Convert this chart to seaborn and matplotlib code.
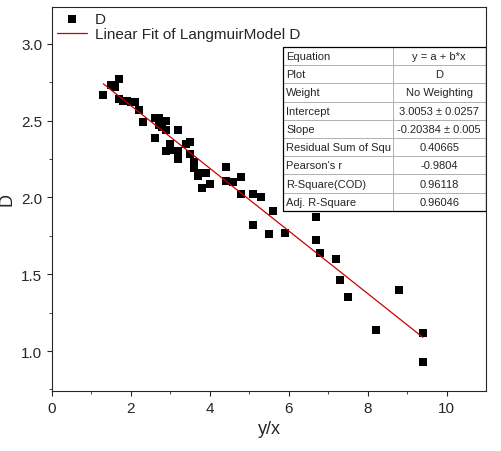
import numpy as np
import matplotlib.pyplot as plt
import matplotlib.patches as mpatches
import seaborn as sns

sns.set_style("ticks")
plt.rcParams['font.family'] = ['Liberation Sans', 'DejaVu Sans']

# 데이터
x_vals = [1.3, 1.5, 1.6, 1.7, 1.7, 1.8, 1.9, 2.0, 2.1, 2.2, 2.3, 2.6, 2.6, 2.7, 2.7,
          2.8, 2.9, 2.9, 2.9, 3.0, 3.0, 3.2, 3.2, 3.2, 3.4, 3.5, 3.5, 3.6, 3.6, 3.7,
          3.8, 3.8, 3.9, 4.0, 4.4, 4.4, 4.6, 4.8, 4.8, 5.1, 5.1, 5.3, 5.5, 5.6, 5.9,
          6.7, 6.7, 6.8, 7.2, 7.3, 7.5, 8.2, 8.8, 9.4, 9.4]
d_vals = [2.67, 2.73, 2.72, 2.77, 2.64, 2.63, 2.63, 2.62, 2.62, 2.57, 2.49, 2.52, 2.39, 2.52, 2.47,
          2.46, 2.50, 2.44, 2.30, 2.35, 2.31, 2.44, 2.30, 2.25, 2.35, 2.36, 2.28, 2.23, 2.19, 2.14,
          2.06, 2.16, 2.16, 2.09, 2.20, 2.11, 2.10, 2.02, 2.13, 2.02, 1.82, 2.00, 1.76, 1.91, 1.77,
          1.72, 1.87, 1.64, 1.60, 1.46, 1.35, 1.14, 1.40, 1.12, 0.93]
intercept = 3.0053
slope = -0.20384

table_rows = [
    ["Equation", "y = a + b*x"],
    ["Plot", "D"],
    ["Weight", "No Weighting"],
    ["Intercept", "3.0053 ± 0.0257"],
    ["Slope", "-0.20384 ± 0.005"],
    ["Residual Sum of Squ", "0.40665"],
    ["Pearson's r", "-0.9804"],
    ["R-Square(COD)", "0.96118"],
    ["Adj. R-Square", "0.96046"],
]

fig = plt.figure(figsize=(5.02, 4.52), dpi=100)
ax = fig.add_axes([52/502, 60/452, 434/502, 384/452])

sns.scatterplot(x=x_vals, y=d_vals, marker='s', color='black', s=40,
                edgecolor='black', linewidth=0, ax=ax, label='D')
fx = np.array([min(x_vals), max(x_vals)])
sns.lineplot(x=fx, y=intercept + slope * fx, color='#cc0000', linewidth=0.9,
             ax=ax, label='Linear Fit of LangmuirModel D')

ax.set_xlim(0, 11)
ax.set_ylim(0.74, 3.24)
ax.set_xticks(range(0, 11, 2))
ax.set_yticks([1.0, 1.5, 2.0, 2.5, 3.0])
ax.set_xticks(np.arange(1, 11, 2), minor=True)
ax.set_yticks(np.arange(0.75, 3.25, 0.25), minor=True)
ax.tick_params(direction='out', labelsize=11)
ax.tick_params(which='minor', length=2)
ax.set_xlabel('y/x', fontsize=13)
ax.set_ylabel('D', fontsize=13)

ax.legend(loc='upper left', frameon=False, fontsize=11, borderaxespad=0.1,
          handletextpad=0.5, borderpad=0.2, labelspacing=0.1)

tbox = [0.532, 0.469, 0.468, 0.427]
tbl = ax.table(cellText=table_rows, bbox=tbox,
               colWidths=[0.54, 0.46], cellLoc='left')
tbl.auto_set_font_size(False)
tbl.set_fontsize(8)
for (r, c), cell in tbl.get_celld().items():
    cell.set_edgecolor('#aaaaaa')
    cell.set_linewidth(0.6)
    cell.PAD = 0.03
    if c == 1:
        cell.get_text().set_ha('center')
        cell._loc = 'center'
ax.add_patch(mpatches.Rectangle((tbox[0], tbox[1]), tbox[2], tbox[3],
                                transform=ax.transAxes, fill=False,
                                edgecolor='black', linewidth=0.9, zorder=10))

fig.savefig('out.png', dpi=100)
